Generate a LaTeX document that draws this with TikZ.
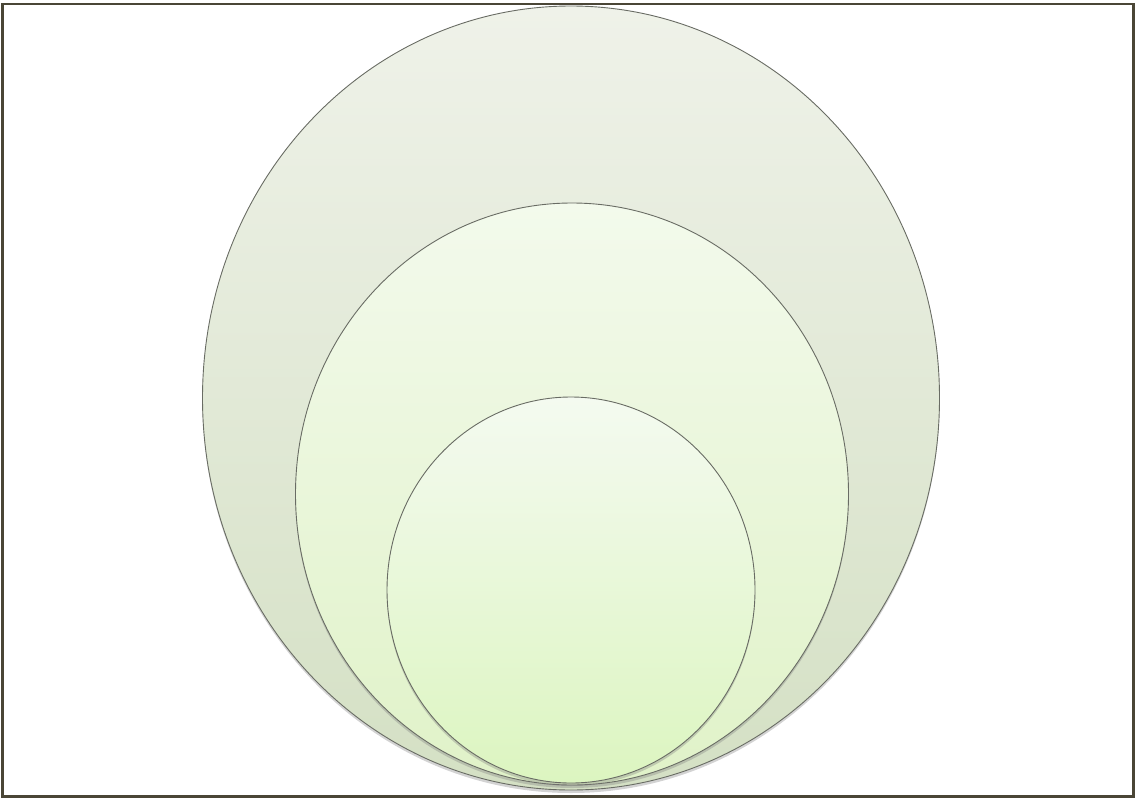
\documentclass[tikz,border=0pt]{standalone}
\usetikzlibrary{shapes.geometric,positioning,shadows}
\definecolor{frameolive}{RGB}{74,70,54}
\definecolor{ringedge}{RGB}{105,108,100}
\definecolor{outertop}{RGB}{239,242,233}
\definecolor{outerbot}{RGB}{212,224,196}
\definecolor{midtop}{RGB}{243,250,236}
\definecolor{midbot}{RGB}{224,242,200}
\definecolor{innertop}{RGB}{244,250,240}
\definecolor{innerbot}{RGB}{220,245,192}

\begin{document}
\begin{tikzpicture}[
    x=1pt, y=-1pt,
    ring/.style={ellipse, draw=ringedge, line width=0.9pt, inner sep=0pt, outer sep=0pt,
        drop shadow={shadow xshift=0pt, shadow yshift=-3pt, opacity=0.35}},
    frame/.style={draw=frameolive, line width=2.2pt}
]
    \useasboundingbox (0,0) rectangle (1135,798);
    \draw[frame] (2.5,4) rectangle (1133.5,796.5);

    \node[ring, minimum width=737, minimum height=784, top color=outertop, bottom color=outerbot] (outer) at (571,398) {};
    \node[ring, minimum width=553, minimum height=582, top color=midtop, bottom color=midbot] (middle) at (572,494) {};
    \node[ring, minimum width=368, minimum height=386, top color=innertop, bottom color=innerbot] (inner) at (571,590) {};
\end{tikzpicture}
\end{document}
